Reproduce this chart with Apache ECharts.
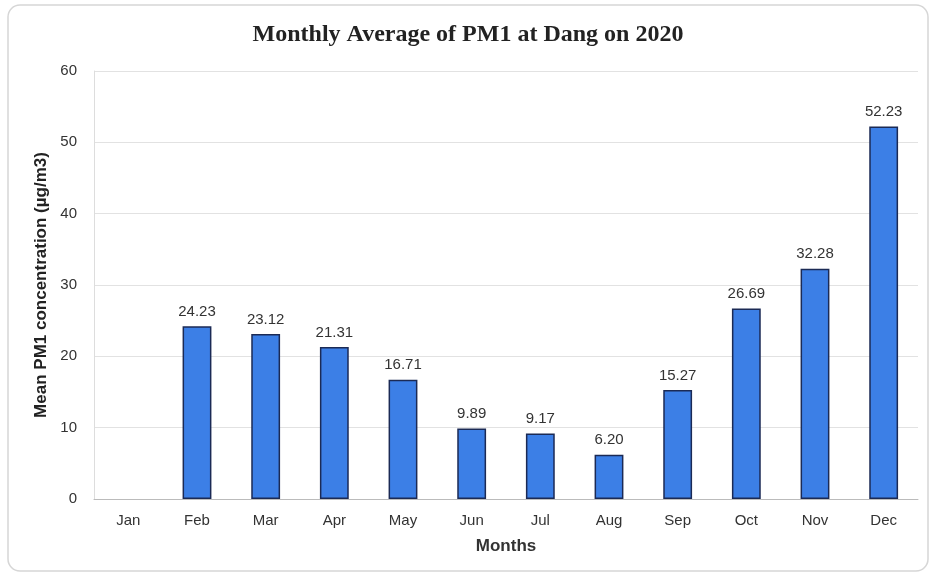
<!DOCTYPE html>
<html><head><meta charset="utf-8">
<script src="https://cdn.jsdelivr.net/npm/echarts@6/dist/echarts.min.js"></script>
<style>html,body{margin:0;padding:0;background:#fff}#c{width:936px;height:578px}</style>
</head><body><div id="c"></div>
<script>
const months = ['Jan','Feb','Mar','Apr','May','Jun','Jul','Aug','Sep','Oct','Nov','Dec'];
const pm1 = [null,24.23,23.12,21.31,16.71,9.89,9.17,6.20,15.27,26.69,32.28,52.23];
const yTicks = [0,10,20,30,40,50,60];

const chart = echarts.init(document.getElementById('c'), null, {renderer:'canvas'});
chart.setOption({
  backgroundColor:'#fff',
  animation:false,
  graphic:[{type:'rect',shape:{x:8,y:5,width:920,height:566,r:12},style:{fill:'none',stroke:'#d6d6d6',lineWidth:1.5},silent:true}],
  title:{text:'Monthly Average of PM1 at Dang on 2020',left:'center',top:18,
    textStyle:{fontFamily:'Liberation Serif',fontWeight:'bold',fontSize:24,color:'#222'}},
  grid:{left:94,right:18,top:71,bottom:79},
  xAxis:{type:'category',data:months,
    name:'Months',nameLocation:'middle',nameGap:39,
    nameTextStyle:{fontFamily:'Liberation Sans',fontWeight:'bold',fontSize:17,color:'#333'},
    axisLine:{lineStyle:{color:'#bbb'}},axisTick:{show:false},
    axisLabel:{fontFamily:'Liberation Sans',fontSize:15,color:'#333',margin:14}},
  yAxis:{type:'value',min:0,max:60,interval:10,
    name:'Mean PM1 concentration (µg/m3)',nameLocation:'middle',nameGap:36,
    nameTextStyle:{fontFamily:'Liberation Sans',fontWeight:'bold',fontSize:17,color:'#222'},
    axisLine:{show:true,lineStyle:{color:'#ddd'}},axisTick:{show:false},
    axisLabel:{fontFamily:'Liberation Sans',fontSize:15,color:'#333',margin:17,
      formatter:v=>yTicks.includes(v)?String(v):''},
    splitLine:{lineStyle:{color:'#e2e2e2'}}},
  series:[{type:'bar',data:pm1,barWidth:'42%',
    itemStyle:{color:'#3c7fe6',borderColor:'#1b2a55',borderWidth:1.5},
    label:{show:true,position:'top',distance:7,fontFamily:'Liberation Sans',fontSize:15,color:'#333',
      formatter:p=>p.value==null?'':p.value.toFixed(2)}}]
});
</script></body></html>
